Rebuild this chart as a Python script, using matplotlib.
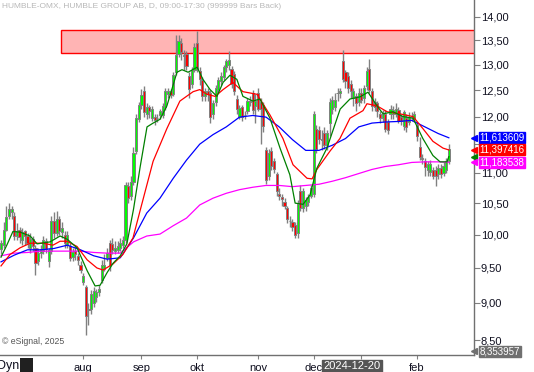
import numpy as np
import pandas as pd
import matplotlib
matplotlib.use('Agg')
import matplotlib.pyplot as plt
from matplotlib.patches import Rectangle
from matplotlib.transforms import blended_transform_factory
from matplotlib.ticker import FixedLocator, NullLocator

plt.rcParams['font.family'] = ['Liberation Sans', 'DejaVu Sans']

# trading days (Stockholm), 2024-06-18 .. 2025-02-19
holidays = ['2024-06-21', '2024-12-24', '2024-12-25', '2024-12-26',
            '2024-12-31', '2025-01-01', '2025-01-06']
dates = pd.bdate_range('2024-06-18', '2025-02-19', freq='C', holidays=holidays)

opens = [9.78, 9.85, 10.08, 10.30, 10.35, 10.30, 9.98, 10.07, 9.92, 10.05,
         9.98, 9.80, 9.93, 9.80, 9.60, 9.72, 9.75, 9.90, 9.60, 9.75,
         10.22, 10.02, 10.24, 10.04, 10.00, 9.85, 9.82, 9.66, 9.75, 9.68,
         9.55, 9.30, 9.22, 8.90, 8.92, 9.00, 9.08, 9.15, 9.32, 9.48,
         9.65, 9.88, 9.86, 9.75, 9.77, 9.80, 9.84, 9.92, 10.78, 10.62,
         10.85, 11.38, 11.95, 12.22, 12.48, 12.05, 12.18, 11.98, 12.00, 11.98,
         12.02, 12.02, 12.18, 12.42, 12.48, 12.42, 12.85, 13.22, 13.45, 13.18,
         13.22, 12.78, 12.62, 12.90, 13.45, 12.88, 12.70, 12.38, 12.48, 12.45,
         12.05, 12.28, 12.50, 12.68, 12.75, 12.95, 13.00, 12.92, 12.82, 12.33,
         12.00, 12.17, 12.02, 12.10, 12.28, 12.45, 12.20, 12.45, 12.28, 12.22,
         11.40, 10.95, 11.38, 11.20, 10.98, 10.65, 10.60, 10.52, 10.42, 10.22,
         10.20, 10.15, 10.02, 10.70, 10.42, 10.45, 10.52, 10.62, 10.65, 11.78,
         11.75, 11.60, 11.70, 11.48, 11.88, 12.15, 12.18, 12.44, 12.45, 13.08,
         12.85, 12.78, 12.62, 12.35, 12.38, 12.28, 12.45, 12.35, 12.58, 12.92,
         12.48, 12.28, 12.25, 12.05, 11.97, 12.05, 11.90, 12.05, 12.05, 12.05,
         12.12, 12.00, 11.82, 11.98, 11.90, 12.00, 11.95, 11.85, 11.45, 11.26,
         11.20, 11.05, 11.02, 11.05, 11.05, 10.98, 11.08, 11.00, 11.05, 11.20]
highs = [9.92, 10.20, 10.45, 10.50, 10.45, 10.35, 10.18, 10.12, 10.10, 10.08,
         10.02, 10.02, 9.98, 9.85, 9.80, 9.85, 9.98, 9.95, 9.80, 10.30,
         10.35, 10.38, 10.30, 10.20, 10.05, 10.05, 9.88, 9.80, 9.82, 9.72,
         9.60, 9.42, 9.25, 9.00, 9.18, 9.22, 9.20, 9.25, 9.62, 9.70,
         9.80, 9.92, 9.95, 9.90, 9.90, 9.95, 9.98, 10.85, 10.85, 10.95,
         11.45, 12.05, 12.28, 12.52, 12.58, 12.25, 12.22, 12.20, 12.05, 12.05,
         12.15, 12.25, 12.55, 12.55, 12.52, 12.85, 13.62, 13.62, 13.55, 13.30,
         13.28, 12.85, 12.95, 13.45, 13.70, 12.95, 12.75, 12.55, 12.55, 12.50,
         12.32, 12.60, 12.75, 12.85, 13.00, 13.12, 13.28, 12.98, 12.88, 12.40,
         12.22, 12.22, 12.10, 12.35, 12.38, 12.50, 12.42, 12.55, 12.35, 12.28,
         11.45, 11.42, 11.45, 11.25, 11.02, 10.75, 10.65, 10.58, 10.45, 10.30,
         10.25, 10.20, 10.55, 10.80, 10.75, 10.60, 10.65, 10.80, 12.10, 11.85,
         11.82, 11.75, 11.80, 11.75, 12.35, 12.38, 12.45, 12.55, 12.55, 13.30,
         12.90, 12.85, 12.70, 12.55, 12.45, 12.55, 12.55, 12.60, 12.95, 13.12,
         12.55, 12.35, 12.30, 12.10, 12.12, 12.12, 11.95, 12.22, 12.20, 12.25,
         12.18, 12.05, 12.12, 12.05, 12.08, 12.08, 12.10, 11.90, 11.62, 11.32,
         11.25, 11.20, 11.22, 11.10, 11.12, 11.15, 11.15, 11.18, 11.25, 11.50]
lows = [9.70, 9.80, 10.05, 10.25, 10.25, 9.92, 9.92, 9.88, 9.85, 9.85,
        9.80, 9.72, 9.75, 9.40, 9.55, 9.65, 9.70, 9.72, 9.52, 9.70,
        9.95, 9.98, 10.00, 9.95, 9.80, 9.80, 9.60, 9.60, 9.62, 9.55,
        9.42, 9.26, 8.56, 8.70, 8.85, 8.95, 9.02, 9.10, 9.28, 9.45,
        9.60, 9.45, 9.70, 9.70, 9.72, 9.75, 9.80, 9.88, 10.50, 10.55,
        10.80, 11.32, 11.90, 12.15, 12.00, 11.95, 11.98, 11.92, 11.85, 11.90,
        11.95, 11.98, 12.12, 12.35, 12.35, 12.38, 12.80, 13.15, 13.10, 12.90,
        12.90, 12.35, 12.55, 12.85, 12.85, 12.60, 12.30, 12.30, 12.30, 11.88,
        11.95, 12.20, 12.45, 12.60, 12.70, 12.85, 12.90, 12.55, 12.40, 12.05,
        11.95, 11.92, 11.95, 12.05, 12.20, 12.05, 11.88, 12.10, 11.50, 11.72,
        10.82, 10.88, 11.05, 11.00, 10.62, 10.55, 10.45, 10.40, 10.18, 10.12,
        10.05, 9.95, 9.95, 10.38, 10.35, 10.38, 10.45, 10.58, 10.60, 11.35,
        11.50, 11.40, 11.42, 11.40, 11.65, 12.05, 12.10, 12.30, 12.35, 12.65,
        12.55, 12.45, 12.35, 12.20, 12.10, 12.20, 12.25, 12.25, 12.50, 12.45,
        12.10, 12.10, 12.00, 11.88, 11.90, 11.72, 11.68, 11.95, 11.95, 12.00,
        11.88, 11.85, 11.75, 11.72, 11.85, 11.92, 11.90, 11.55, 11.22, 11.15,
        10.95, 10.95, 10.95, 10.90, 10.78, 10.90, 10.92, 10.95, 11.00, 11.15]
closes = [9.88, 10.08, 10.28, 10.40, 10.40, 9.98, 10.06, 9.96, 10.04, 9.98,
          9.88, 9.93, 9.82, 9.58, 9.72, 9.78, 9.92, 9.78, 9.76, 10.22,
          10.02, 10.25, 10.06, 10.10, 9.88, 10.00, 9.65, 9.74, 9.70, 9.62,
          9.47, 9.38, 8.82, 8.92, 9.12, 9.17, 9.15, 9.20, 9.55, 9.55,
          9.72, 9.55, 9.76, 9.80, 9.83, 9.88, 9.92, 10.80, 10.58, 10.85,
          11.35, 11.98, 12.22, 12.40, 12.08, 12.18, 12.10, 12.15, 11.93, 11.97,
          12.10, 12.20, 12.48, 12.48, 12.40, 12.80, 13.20, 13.48, 13.25, 13.20,
          12.98, 12.52, 12.90, 13.35, 12.92, 12.72, 12.38, 12.48, 12.42, 12.00,
          12.25, 12.55, 12.70, 12.78, 12.95, 13.08, 13.10, 12.62, 12.48, 12.14,
          12.16, 12.00, 12.03, 12.30, 12.30, 12.12, 12.30, 12.15, 12.15, 11.82,
          10.88, 11.35, 11.12, 11.06, 10.70, 10.62, 10.56, 10.46, 10.24, 10.21,
          10.12, 10.00, 10.48, 10.42, 10.70, 10.55, 10.60, 10.75, 12.05, 11.42,
          11.60, 11.58, 11.48, 11.70, 12.28, 12.32, 12.32, 12.45, 12.48, 12.72,
          12.68, 12.55, 12.48, 12.48, 12.25, 12.45, 12.32, 12.55, 12.88, 12.50,
          12.20, 12.18, 12.10, 11.98, 12.05, 11.78, 11.75, 12.15, 12.12, 12.15,
          11.92, 11.92, 12.08, 11.80, 12.00, 11.99, 12.05, 11.65, 11.28, 11.24,
          11.10, 11.15, 11.15, 10.95, 10.95, 11.08, 10.98, 11.12, 11.20, 11.42]

# moving averages (bar position, value)
green_bars = [0, 2.3, 4.5, 7.2, 11, 13.6, 18.5, 22.3, 25, 28.7, 32.5, 35.5,
              37.4, 40, 42.3, 45, 47.5, 50, 52.5, 55.1, 57.4, 60, 62.6, 66.4,
              68.3, 70.6, 74, 76.2, 78.9, 81.5, 83.8, 86.4, 89, 91.3, 95.1,
              97.7, 101.5, 105.3, 109, 111, 114, 116.6, 119.2, 123, 128,
              131.7, 135.5, 138.5, 141.9, 144.2, 147.9, 151.7, 155.5, 159.2,
              163, 165.7, 168.3, 169]
green_vals = [9.66, 9.85, 10.05, 10.04, 9.98, 9.86, 9.89, 9.98, 9.93, 9.80,
              9.46, 9.24, 9.25, 9.43, 9.57, 9.68, 9.86, 10.40, 11.10, 11.81,
              11.88, 11.95, 12.20, 12.85, 12.90, 12.85, 12.95, 12.71, 12.51,
              12.38, 12.65, 12.79, 12.71, 12.38, 12.29, 12.33, 11.97, 11.43,
              10.97, 10.50, 10.48, 10.63, 11.08, 11.43, 12.14, 12.33, 12.37,
              12.46, 12.20, 12.05, 12.09, 12.00, 11.97, 11.60, 11.30, 11.19,
              11.19, 11.28]
red_bars = [0, 3.4, 7.2, 11, 15.8, 19.6, 22.3, 24.9, 28.7, 32.5, 36.2, 38.5,
            42.3, 46, 49.8, 52.5, 57.4, 62.6, 67.5, 72.5, 75, 77.7, 80.8,
            83.8, 87.5, 91.3, 96.6, 101.5, 106.4, 110.2, 115.5, 117.4, 119.2,
            124.2, 127.9, 131.7, 136.6, 138.1, 141.9, 145.7, 150.6, 155.5,
            159.2, 163, 166.8, 169]
red_vals = [9.53, 9.70, 9.80, 9.87, 9.87, 9.84, 9.90, 9.90, 9.82, 9.62,
            9.50, 9.47, 9.56, 9.70, 9.95, 10.38, 11.20, 11.78, 12.29, 12.47,
            12.51, 12.42, 12.38, 12.51, 12.65, 12.47, 12.42, 12.03, 11.60,
            11.14, 10.91, 10.90, 11.06, 11.38, 11.60, 11.97, 12.11, 12.24,
            12.20, 12.09, 12.05, 12.00, 11.78, 11.55, 11.43, 11.397416]
ma_bars = [0, 5, 10, 15, 20, 25, 30, 35, 40, 45, 50, 55, 60, 65, 70, 75, 80,
           85, 90, 95, 100, 105, 110, 115, 120, 125, 130, 135, 140, 145, 150,
           155, 160, 165, 169]
blue_vals = [9.59, 9.69, 9.77, 9.77, 9.79, 9.84, 9.77, 9.68, 9.63, 9.65,
             9.95, 10.34, 10.58, 10.91, 11.22, 11.50, 11.67, 11.81, 11.99, 12.02,
             11.99, 11.81, 11.58, 11.39, 11.39, 11.48, 11.60, 11.81, 11.88, 11.90,
             11.91, 11.93, 11.81, 11.69, 11.613609]
magenta_vals = [9.68, 9.72, 9.73, 9.75, 9.75, 9.75, 9.75, 9.73, 9.72, 9.72,
                9.89, 9.98, 10.01, 10.14, 10.26, 10.47, 10.58, 10.66, 10.72, 10.76,
                10.79, 10.79, 10.77, 10.79, 10.81, 10.86, 10.92, 10.99, 11.06, 11.11,
                11.14, 11.18, 11.19, 11.19, 11.183538]

zone_low, zone_high = 13.23, 13.72
zone_start = 22.6
cursor_price = 8.353957
cursor_date = '2024-12-20'
# 'jan' sits under the cursor date box in the original, so its label is blank
month_names = {8: 'aug', 9: 'sep', 10: 'okt', 11: 'nov', 12: 'dec', 1: '', 2: 'feb'}
yticks = [8.5, 9.0, 9.5, 10.0, 10.5, 11.0, 11.5, 12.0, 12.5, 13.0, 13.5, 14.0]

W, H = 534, 372
fig = plt.figure(figsize=(W / 100, H / 100), dpi=100)
ax = fig.add_axes([0, 17 / H, 474 / W, 355 / H])

x = np.arange(len(closes))
o = np.array(opens)
c = np.array(closes)
up = c >= o

ax.add_patch(Rectangle((zone_start, zone_low), 400, zone_high - zone_low,
                       facecolor='#ffb4b4', edgecolor='#ff0000', lw=1.0, zorder=1))

ax.vlines(x, lows, highs, color='#808080', lw=1.0, zorder=2)
ax.bar(x[up], np.maximum(c - o, 0.004)[up], bottom=o[up], width=0.8,
       color='#00ff00', edgecolor='#808080', lw=0.7, zorder=3)
ax.bar(x[~up], (o - c)[~up], bottom=c[~up], width=0.8,
       color='#ff0000', edgecolor='#808080', lw=0.7, zorder=3)

ax.plot(ma_bars, magenta_vals, color='#ff00ff', lw=0.9, zorder=4)
ax.plot(ma_bars, blue_vals, color='#0000ff', lw=0.9, zorder=4)
ax.plot(red_bars, red_vals, color='#ff0000', lw=0.9, zorder=4)
ax.plot(green_bars, green_vals, color='#008000', lw=0.9, zorder=4)

ax.set_yscale('log')
ax.set_ylim(8.306, 14.365)
ax.set_xlim(-0.38, 178.5)

ax.yaxis.tick_right()
ax.yaxis.set_major_locator(FixedLocator(yticks))
ax.yaxis.set_minor_locator(NullLocator())
ax.set_yticklabels([f'{v:.2f}'.replace('.', ',') for v in yticks])
ax.tick_params(axis='y', length=4, width=0.8, color='#808080', labelsize=8,
               pad=1, labelcolor='#101020')

month_pos, month_lab = [], []
for i in range(1, len(dates)):
    if dates[i].month != dates[i - 1].month and dates[i].month in month_names:
        month_pos.append(i)
        month_lab.append(month_names[dates[i].month])
ax.set_xticks(month_pos)
ax.set_xticklabels(month_lab)
ax.xaxis.set_minor_locator(NullLocator())
ax.tick_params(axis='x', length=3, width=0.8, color='#808080', labelsize=8,
               pad=3, labelcolor='#101020')

for s in ['top', 'left']:
    ax.spines[s].set_visible(False)
for s in ['right', 'bottom']:
    ax.spines[s].set_color('#707070')
    ax.spines[s].set_linewidth(1.0)

# price labels on the right axis
tr = blended_transform_factory(ax.transAxes, ax.transData)
ax.plot([1.0], [green_vals[-1]], marker='<', color='#008000', ms=4, transform=tr,
        clip_on=False, zorder=5)
for val, col in [(blue_vals[-1], '#0000ff'), (red_vals[-1], '#ff0000'),
                 (magenta_vals[-1], '#ff00ff'), (cursor_price, '#707070')]:
    ax.plot([1.0], [val], marker='<', color=col, ms=5, transform=tr,
            clip_on=False, zorder=5)
    ax.text(1.012, val, f'{val:.6f}'.replace('.', ','), transform=tr,
            ha='left', va='center', fontsize=7.0, color='white', zorder=6,
            clip_on=False,
            bbox=dict(boxstyle='square,pad=0.05', fc=col, ec=col))

# cursor date box, drawn just right of the dec label
cur_i = list(dates.strftime('%Y-%m-%d')).index(cursor_date)
trx = blended_transform_factory(ax.transData, ax.transAxes)
ax.text(cur_i + 0.6, -0.032, cursor_date, transform=trx, ha='center', va='center',
        fontsize=8, color='white', clip_on=False, zorder=6,
        bbox=dict(boxstyle='square,pad=0.12', fc='#555555', ec='#555555'))

fig.text(2 / W, 1 - 7 / H,
         'HUMBLE-OMX, HUMBLE GROUP AB, D, 09:00-17:30 (999999 Bars Back)',
         ha='left', va='center', fontsize=6.0, color='#b8b8b8')
fig.text(2 / W, 1 - 342 / H, '\u00a9 eSignal, 2025', ha='left', va='center',
         fontsize=6.3, color='#555555')
fig.text(-3 / W, 1 - 366 / H, 'Dyn', ha='left', va='center', fontsize=9,
         color='#101020')
fig.patches.append(Rectangle((20 / W, 0), 13 / W, 14 / H, transform=fig.transFigure,
                             facecolor='#202020', edgecolor='none', figure=fig))

fig.savefig('out.png', dpi=100, facecolor='white')
